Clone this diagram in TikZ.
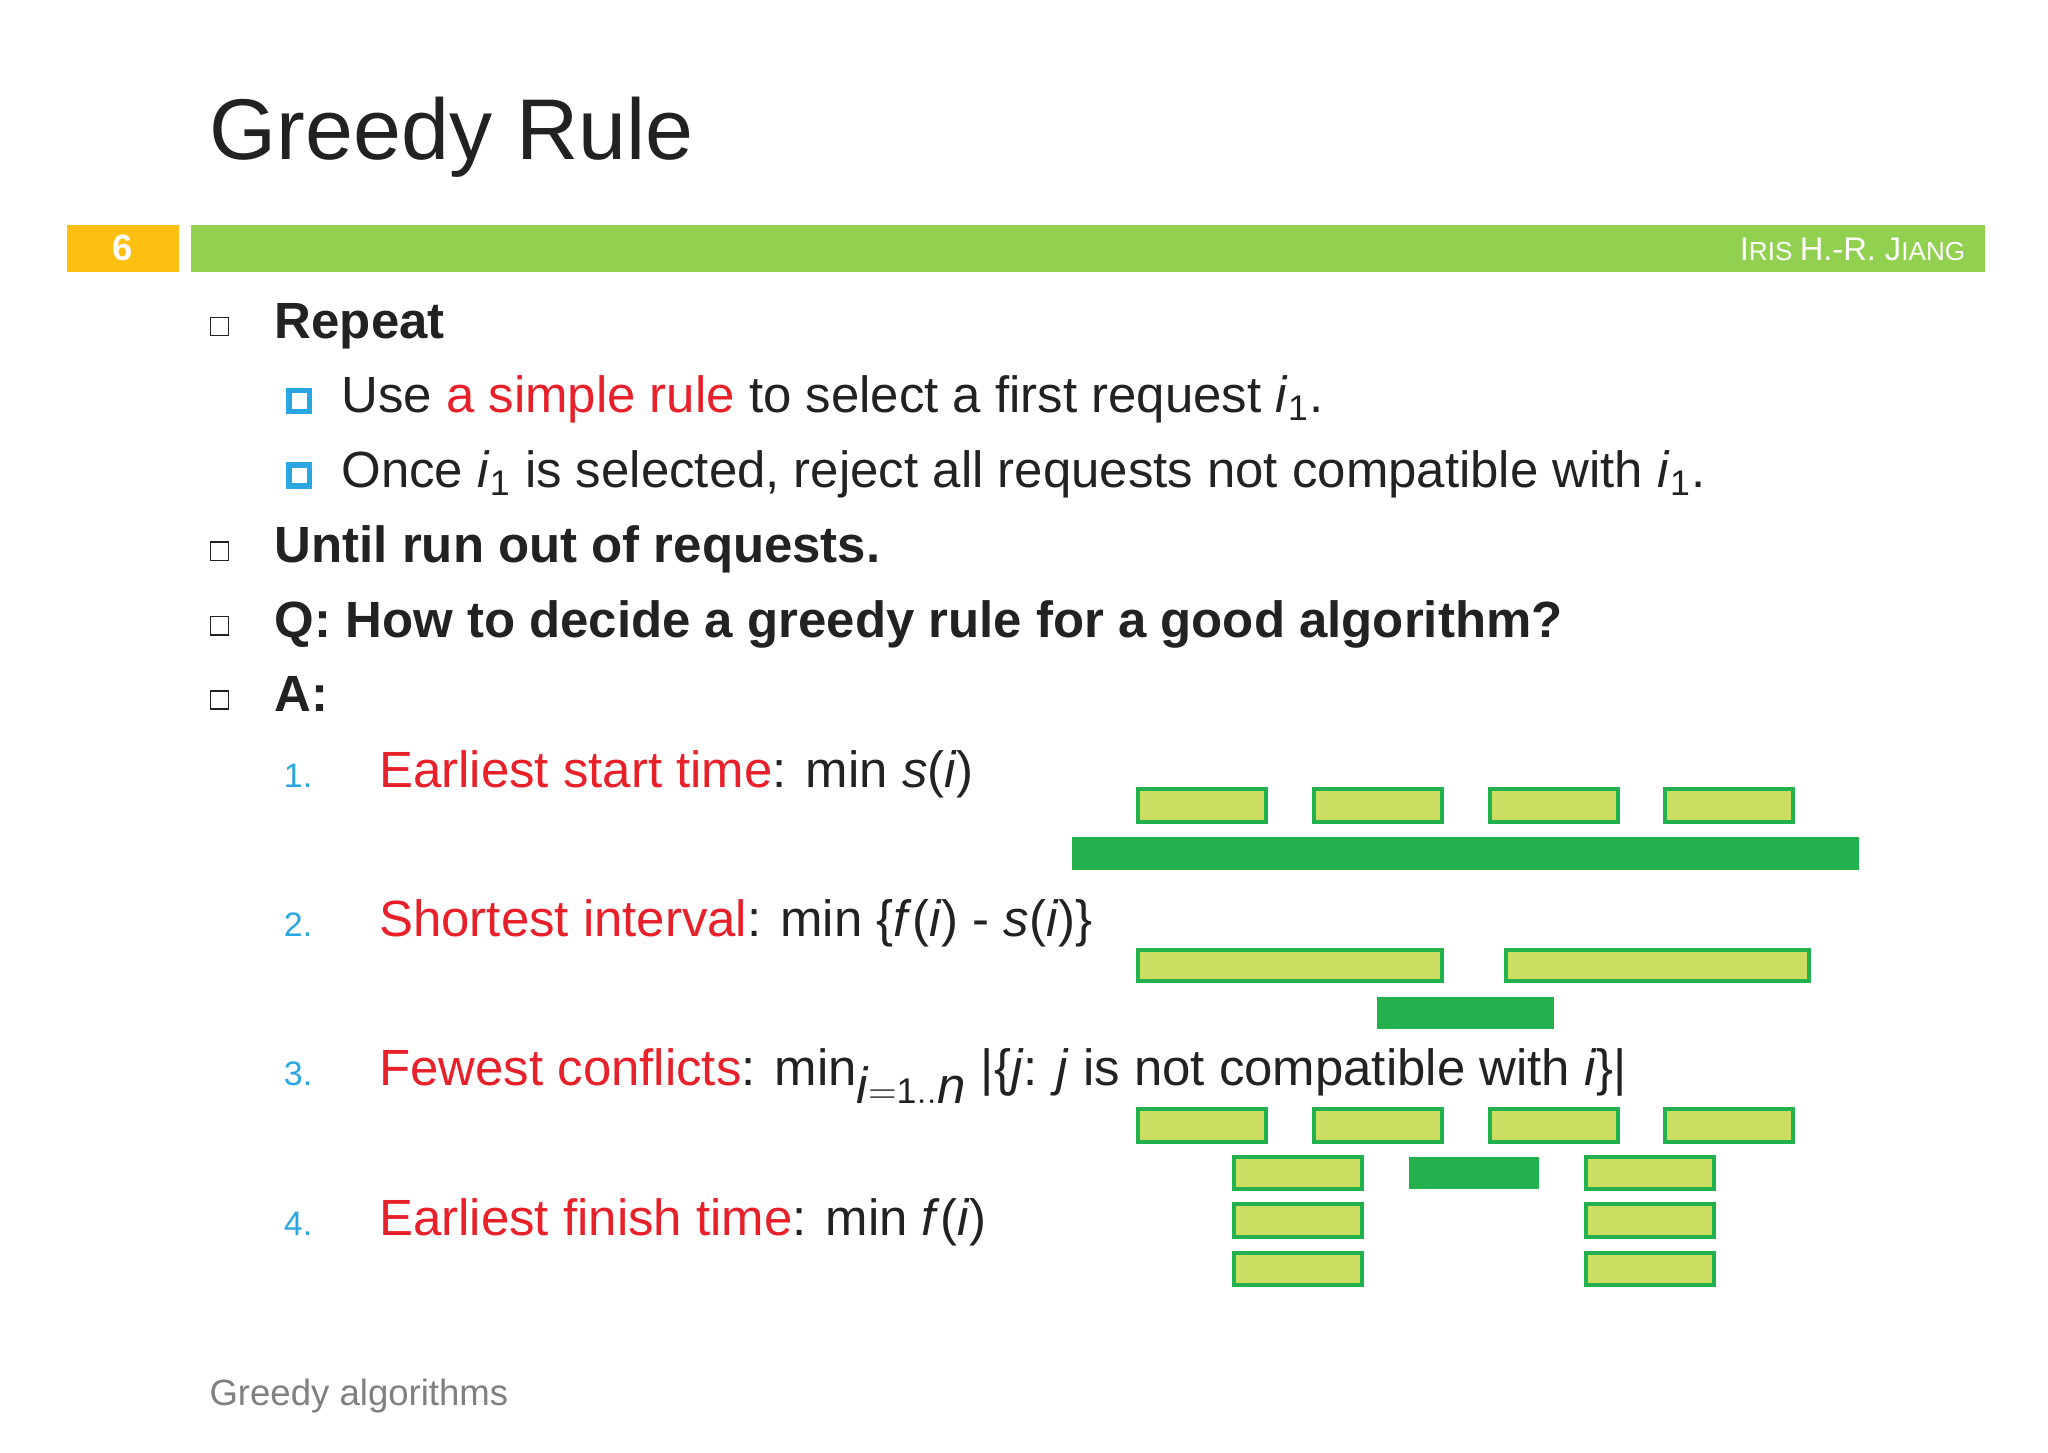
\documentclass[tikz,border=0pt]{standalone}
\usepackage{fontspec}
\setmainfont{Liberation Sans}
\definecolor{tgreen}{HTML}{92D050}
\definecolor{torange}{HTML}{FDC010}
\definecolor{tred}{HTML}{E8202A}
\definecolor{tblue}{HTML}{2AA7E0}
\definecolor{lfill}{HTML}{CCDE62}
\definecolor{bline}{HTML}{22B14C}
\definecolor{ttext}{HTML}{222222}
\newcommand{\lbr}[4]{\draw[lightbar] (#1,#2) rectangle (#3,#4);}
\newcommand{\dbr}[4]{\fill[bline] (#1,#2) rectangle (#3,#4);}
\begin{document}
\begin{tikzpicture}[x=0.5pt,y=-0.5pt,
  lightbar/.style={fill=lfill,draw=bline,line width=1.5pt},
  body/.style={anchor=base west,inner sep=0,font=\fontsize{19.5}{22}\selectfont,text=ttext},
  bbody/.style={body,font=\fontsize{19.5}{22}\selectfont\bfseries},
  num/.style={anchor=base west,inner sep=0,font=\fontsize{13}{15}\selectfont,text=tblue},
  hbul/.style={draw=ttext,line width=0.6pt,minimum size=7pt,inner sep=0},
  sbul/.style={draw=tblue,line width=2.2pt,minimum size=8pt,inner sep=0}]
\useasboundingbox[fill=white] (0,0) rectangle (1568,1111.7);
\node[anchor=base west,inner sep=0,font=\fontsize{33}{36}\selectfont,text=ttext] (title) at (160,122) {Greedy Rule};
\fill[torange] (51,172) rectangle (137,208);
\node[text=white,font=\fontsize{14}{16}\selectfont\bfseries] (pg) at (94,190) {6};
\fill[tgreen] (146,172) rectangle (1520,208);
\node[anchor=east,text=white,font=\fontsize{12.5}{14}\selectfont,inner sep=0] (auth) at (1505,191) {I\fontsize{10}{12}\selectfont RIS \fontsize{12.5}{14}\selectfont H.-R. J\fontsize{10}{12}\selectfont IANG};
% bullets
\node[hbul] (b1) at (168,250) {};
\node[bbody] (t1) at (210,259) {Repeat};
\node[sbul] (s1) at (229,307) {};
\node[body] (t2) at (261,316) {Use \textcolor{tred}{a simple rule} to select a first request \textit{i}$_{\mathrm{1}}$.};
\node[sbul] (s2) at (229,364) {};
\node[body] (t3) at (261,373) {Once \textit{i}$_{\mathrm{1}}$ is selected, reject all requests not compatible with \textit{i}$_{\mathrm{1}}$.};
\node[hbul] (b2) at (168,422) {};
\node[bbody] (t4) at (210,431) {Until run out of requests.};
\node[hbul] (b3) at (168,479) {};
\node[bbody] (t5) at (210,488) {Q: How to decide a greedy rule for a good algorithm?};
\node[hbul] (b4) at (168,536) {};
\node[bbody] (t6) at (210,545) {A:};
\node[num] (n1) at (217,603) {1.};
\node[body] (e1) at (290,603) {\textcolor{tred}{Earliest start time}: min \textit{s}(\textit{i})};
\node[num] (n2) at (217,717) {2.};
\node[body] (e2) at (290,717) {\textcolor{tred}{Shortest interval}: min \{\textit{f}(\textit{i}) - \textit{s}(\textit{i})\}};
\node[num] (n3) at (217,831) {3.};
\node[body] (e3) at (290,831) {\textcolor{tred}{Fewest conflicts}: min$_{\textit{i}\mathrm{=1..}\textit{n}}$ |\{\textit{j}: \textit{j} is not compatible with \textit{i}\}|};
\node[num] (n4) at (217,946) {4.};
\node[body] (e4) at (290,946) {\textcolor{tred}{Earliest finish time}: min \textit{f}(\textit{i})};
% bars row 1
\lbr{871}{604}{969}{629}\lbr{1006}{604}{1104}{629}\lbr{1141}{604}{1239}{629}\lbr{1275}{604}{1373}{629}
\dbr{821}{641}{1423}{666}
% row 2
\lbr{871}{727}{1104}{751}\lbr{1153}{727}{1385}{751}
\dbr{1054}{763}{1190}{788}
% row 3
\lbr{871}{849}{969}{874}\lbr{1006}{849}{1104}{874}\lbr{1141}{849}{1239}{874}\lbr{1275}{849}{1373}{874}
\lbr{945}{886}{1043}{910}\dbr{1079}{886}{1178}{910}\lbr{1214}{886}{1312}{910}
\lbr{945}{922}{1043}{947}\lbr{1214}{922}{1312}{947}
\lbr{945}{959}{1043}{984}\lbr{1214}{959}{1312}{984}
\node[anchor=base west,inner sep=0,font=\fontsize{14}{16}\selectfont,text=gray] (foot) at (160,1076) {Greedy algorithms};
\end{tikzpicture}
\end{document}
